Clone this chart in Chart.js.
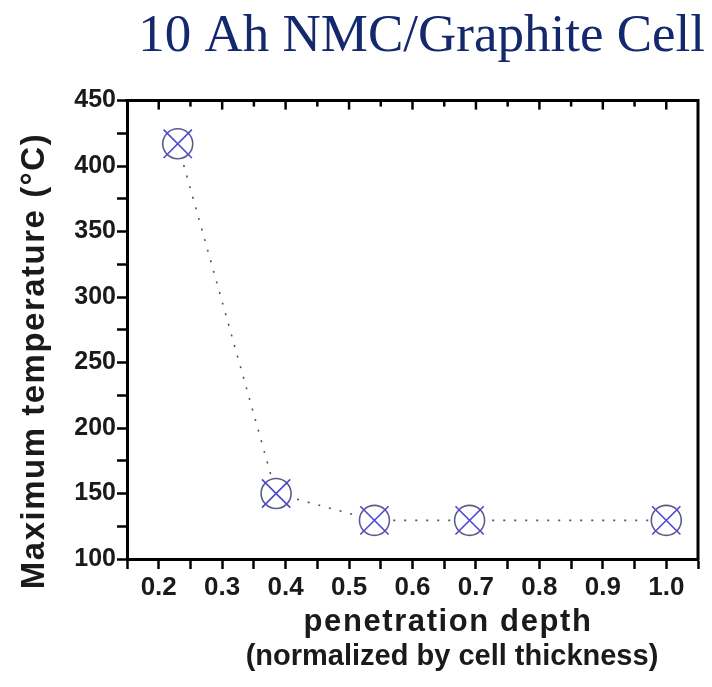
<!DOCTYPE html>
<html>
<head>
    <title>10 Ah NMC/Graphite Cell</title>
    <script src="https://cdn.jsdelivr.net/npm/chart.js"></script>
    <style>
        body { margin: 0; background: #fff; }
        #wrap { width: 712px; height: 687px; position: relative; }
    </style>
</head>
<body>
<div id="wrap"><canvas id="tempChart"></canvas></div>
<script>
    // penetration depth (normalized) vs max temperature
    const depth = [0.23, 0.385, 0.54, 0.69, 1.0];
    const maxTemp = [417, 150, 129.5, 129.5, 129.5];
    const chartTitle = '10 Ah NMC/Graphite Cell';
    const yTitle = 'Maximum temperature (°C)';
    const xTitle = ['penetration depth', '(normalized by cell thickness)'];

    const points = depth.map((d, i) => ({ x: d, y: maxTemp[i] }));

    function isMajor(v, step) {
        const q = v / step;
        return Math.abs(q - Math.round(q)) < 1e-6;
    }

    // frame (top + right), inward top ticks and the axis titles
    const decor = {
        id: 'decor',
        afterDraw(chart) {
            const { ctx, chartArea: a, scales } = chart;
            ctx.save();
            ctx.strokeStyle = '#000';
            ctx.lineWidth = 3;
            ctx.beginPath();
            ctx.moveTo(a.left - 1.5, a.top);
            ctx.lineTo(a.right, a.top);
            ctx.lineTo(a.right, a.bottom + 1.5);
            ctx.stroke();
            ctx.lineWidth = 2.5;
            scales.x.ticks.forEach(t => {
                const px = scales.x.getPixelForValue(t.value);
                if (px <= a.left + 2 || px >= a.right - 2) return;
                const len = isMajor(t.value, 0.1) ? 9 : 6;
                ctx.beginPath();
                ctx.moveTo(px, a.top);
                ctx.lineTo(px, a.top + len);
                ctx.stroke();
            });

            ctx.fillStyle = '#1a1a1a';
            ctx.textAlign = 'center';
            ctx.textBaseline = 'middle';
            ctx.save();
            ctx.font = 'bold 33px "Liberation Sans", Arial, sans-serif';
            ctx.letterSpacing = '1.5px';
            ctx.translate(35, 361);
            ctx.rotate(-Math.PI / 2);
            ctx.fillText(yTitle, 0, 0);
            ctx.restore();

            ctx.font = 'bold 31px "Liberation Sans", Arial, sans-serif';
            ctx.letterSpacing = '1.6px';
            ctx.fillText(xTitle[0], 448, 622);
            ctx.font = 'bold 29px "Liberation Sans", Arial, sans-serif';
            ctx.letterSpacing = '0px';
            ctx.fillText(xTitle[1], 452, 657);
            ctx.restore();
        }
    };

    const ctx = document.getElementById('tempChart').getContext('2d');
    new Chart(ctx, {
        type: 'scatter',
        data: {
            datasets: [{
                data: points,
                order: 1,
                showLine: true,
                borderColor: '#555',
                borderWidth: 1.6,
                borderDash: [2, 9],
                pointStyle: 'circle',
                pointRadius: 15,
                pointHoverRadius: 15,
                pointBorderColor: '#5b5b8e',
                pointBorderWidth: 1.6,
                pointBackgroundColor: '#fff'
            }, {
                data: points,
                order: 0,
                showLine: false,
                pointStyle: 'crossRot',
                pointRadius: 20,
                pointHoverRadius: 20,
                pointBorderColor: '#4a4ad0',
                pointBorderWidth: 1.6
            }]
        },
        options: {
            responsive: true,
            maintainAspectRatio: false,
            animation: false,
            layout: { autoPadding: false, padding: { top: 0, right: 7, left: 0, bottom: 0 } },
            plugins: {
                legend: { display: false },
                tooltip: { enabled: false },
                title: {
                    display: true,
                    text: chartTitle,
                    align: 'end',
                    color: '#14286e',
                    font: { family: '"Liberation Serif", "Times New Roman", serif', size: 53, weight: 'normal' },
                    padding: { top: 5, bottom: 32 }
                }
            },
            scales: {
                x: {
                    type: 'linear',
                    min: 0.15,
                    max: 1.05,
                    ticks: {
                        stepSize: 0.05,
                        autoSkip: false,
                        maxRotation: 0,
                        padding: 3,
                        color: '#1a1a1a',
                        font: { family: '"Liberation Sans", Arial, sans-serif', size: 26, weight: 'bold' },
                        callback: v => isMajor(v, 0.1) ? v.toFixed(1) : ''
                    },
                    grid: { drawOnChartArea: false, tickLength: 10, tickWidth: 2.5, tickColor: '#000' },
                    border: { color: '#000', width: 3 },
                    afterFit: s => { s.height = 128; s.paddingLeft = 0; s.paddingRight = 0; }
                },
                y: {
                    min: 100,
                    max: 450,
                    ticks: {
                        stepSize: 25,
                        autoSkip: false,
                        padding: 1,
                        color: '#1a1a1a',
                        font: { family: '"Liberation Sans", Arial, sans-serif', size: 25, weight: 'bold' },
                        callback: v => v % 50 === 0 ? v : ''
                    },
                    grid: { drawOnChartArea: false, tickLength: 10, tickWidth: 2.5, tickColor: '#000' },
                    border: { color: '#000', width: 3 },
                    afterFit: s => { s.width = 127; }
                },
                y2: {
                    position: 'right',
                    display: true,
                    ticks: { display: false },
                    grid: { display: false, drawTicks: false },
                    border: { display: false },
                    afterFit: s => { s.width = 7; }
                }
            }
        },
        plugins: [decor]
    });
</script>
</body>
</html>
